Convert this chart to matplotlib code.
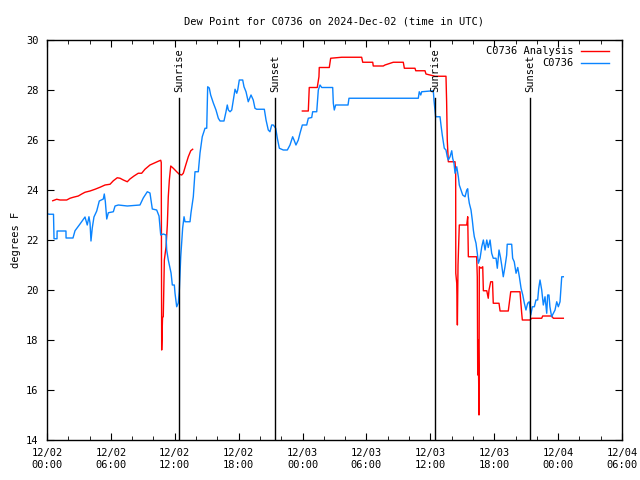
import numpy as np
import pandas as pd
import matplotlib
matplotlib.use('Agg')
import matplotlib.pyplot as plt
import matplotlib.dates as mdates

# hours since 2024-12-02 00:00 UTC
obs_hours = [0.0, 0.22, 0.61, 0.66, 0.94, 0.95, 1.78, 1.79, 2.44, 2.63, 3.10, 3.57, 3.78, 3.94,
             4.04, 4.13, 4.25, 4.41, 4.67, 4.91, 5.29, 5.38, 5.48, 5.61, 5.76, 6.23, 6.39, 6.70,
             7.54, 8.73, 9.04, 9.42, 9.67, 9.89, 10.30, 10.52, 10.68, 10.92, 11.18, 11.24, 11.39,
             11.65, 11.77, 11.96, 12.02, 12.18, 12.33, 12.42, 12.56, 12.74, 12.87, 12.96, 13.43,
             13.52, 13.65, 13.74, 13.90, 14.21, 14.37, 14.58, 14.84, 15.00, 15.09, 15.24, 15.37,
             15.62, 15.87, 16.09, 16.25, 16.62, 16.81, 16.93, 17.03, 17.19, 17.35, 17.50, 17.66,
             17.82, 17.91, 18.06, 18.38, 18.50, 18.69, 18.90, 19.16, 19.37, 19.53, 19.69, 20.41,
             20.57, 20.78, 20.94, 21.10, 21.25, 21.48, 21.63, 21.82, 22.19, 22.57, 22.82, 23.07,
             23.20, 23.38, 23.60, 23.76, 23.98, 24.39, 24.54, 24.86, 24.95, 25.33, 25.48, 25.64,
             25.80, 26.83, 26.89, 26.98, 27.11, 28.27, 28.36, 34.87, 34.96, 35.10, 35.19, 36.28,
             36.34, 36.44, 36.50, 36.91, 37.00, 37.12, 37.22, 37.31, 37.47, 37.59, 37.69, 37.85,
             38.01, 38.10, 38.22, 38.32, 38.48, 38.63, 38.72, 38.88, 39.04, 39.26, 39.42, 39.51,
             39.57, 39.66, 39.82, 39.94, 40.04, 40.13, 40.29, 40.41, 40.51, 40.67, 40.83, 40.98,
             41.14, 41.30, 41.44, 41.61, 41.76, 41.91, 42.17, 42.29, 42.45, 42.59, 42.70, 42.85,
             43.01, 43.17, 43.22, 43.64, 43.73, 43.88, 44.05, 44.21, 44.36, 44.52, 44.68, 44.83,
             44.98, 45.14, 45.29, 45.43, 45.58, 45.77, 45.92, 46.08, 46.18, 46.30, 46.46, 46.61,
             46.77, 46.93, 47.02, 47.14, 47.23, 47.39, 47.55, 47.71, 47.87, 48.02, 48.18, 48.34,
             48.49]
obs_dewpt = [23.05, 23.03, 23.03, 22.05, 22.05, 22.36, 22.36, 22.08, 22.08, 22.37, 22.64, 22.92,
             22.6, 22.93, 22.68, 21.96, 22.48, 22.92, 23.16, 23.56, 23.64, 23.84, 23.53, 22.84,
             23.09, 23.13, 23.36, 23.4, 23.36, 23.4, 23.68, 23.93, 23.88, 23.24, 23.2, 22.96,
             22.2, 22.24, 22.2, 21.6, 21.2, 20.68, 20.2, 20.2, 19.88, 19.33, 19.48, 19.93, 21.33,
             22.48, 22.93, 22.73, 22.73, 23.08, 23.48, 23.73, 24.73, 24.73, 25.48, 26.13, 26.47,
             26.47, 28.13, 28.08, 27.8, 27.48, 27.2, 26.87, 26.76, 26.76, 27.13, 27.4, 27.2,
             27.13, 27.2, 27.6, 28.03, 27.87, 28.0, 28.4, 28.4, 28.13, 27.93, 27.53, 27.8, 27.6,
             27.27, 27.23, 27.23, 26.8, 26.4, 26.33, 26.6, 26.6, 26.47, 26.07, 25.67, 25.6, 25.6,
             25.8, 26.13, 26.0, 25.8, 26.0, 26.27, 26.6, 26.6, 26.87, 26.9, 27.13, 27.13, 28.0,
             28.2, 28.1, 28.1, 27.47, 27.2, 27.4, 27.4, 27.67, 27.67, 27.93, 27.8, 27.93, 27.97,
             27.6, 27.2, 26.93, 26.93, 26.6, 26.2, 25.93, 25.67, 25.6, 25.33, 25.2, 25.33, 25.57,
             25.27, 25.07, 24.67, 24.93, 24.53, 24.2, 24.0, 23.8, 23.73, 24.0, 24.05, 23.73,
             23.47, 23.2, 22.8, 22.4, 22.13, 21.87, 21.47, 21.07, 21.27, 21.73, 22.0, 21.6, 22.0,
             21.7, 22.0, 21.47, 21.27, 21.27, 20.87, 21.6, 21.3, 21.0, 20.53, 20.93, 21.4, 21.83,
             21.83, 21.27, 21.13, 20.67, 20.9, 20.53, 20.07, 19.8, 19.47, 19.2, 19.47, 19.53,
             19.0, 19.33, 19.33, 19.6, 19.6, 20.07, 20.4, 20.0, 19.4, 19.73, 19.07, 19.8, 19.8,
             19.33, 18.93, 19.07, 19.2, 19.53, 19.33, 19.53, 20.53, 20.53]

ana_hours = [0.54, 0.91, 1.22, 1.85, 2.16, 2.47, 2.94, 3.26, 3.57, 4.04, 4.51, 4.98, 5.45, 5.92,
             6.23, 6.60, 6.86, 7.17, 7.54, 7.79, 8.17, 8.57, 8.89, 9.20, 9.67, 10.14, 10.45,
             10.68, 10.73, 10.77, 10.85, 10.92, 11.02, 11.18, 11.30, 11.39, 11.49, 11.62, 11.86,
             12.18, 12.42, 12.65, 12.80, 13.03, 13.27, 13.50, 13.68, 18.0,
             23.98, 24.54, 24.63, 25.38, 25.54, 25.57, 26.51, 26.64, 27.68, 29.55, 29.65, 30.59,
             30.64, 31.58, 31.74, 32.52, 33.46, 33.56, 34.56, 34.63, 35.50, 35.59, 36.44, 37.47,
             37.53, 37.59, 37.69, 38.32, 38.38, 38.39, 38.48, 38.54, 38.60, 38.72, 39.42, 39.51,
             39.57, 40.35, 40.41, 40.45, 40.50, 40.57, 40.60, 40.76, 40.92, 40.98, 41.30, 41.44,
             41.51, 41.67, 41.84, 41.91, 42.45, 42.55, 43.32, 43.55, 44.42, 44.58, 44.64, 45.36,
             45.52, 46.46, 46.55, 47.40, 47.55, 48.49]
ana_dewpt = [23.57, 23.63, 23.6, 23.6, 23.67, 23.71, 23.76, 23.84, 23.91, 23.96, 24.03, 24.11,
             24.2, 24.23, 24.37, 24.49, 24.47, 24.4, 24.33, 24.44, 24.56, 24.67, 24.67, 24.83,
             25.0, 25.09, 25.15, 25.19, 25.1, 17.6, 18.9, 18.93, 21.2, 21.73, 22.6, 23.73, 24.4,
             24.96, 24.87, 24.73, 24.63, 24.6, 24.67, 25.0, 25.33, 25.57, 25.63, np.nan,
             27.16, 27.16, 28.1, 28.1, 28.53, 28.9, 28.9, 29.27, 29.31, 29.31, 29.11, 29.11,
             28.96, 28.96, 29.0, 29.11, 29.11, 28.87, 28.87, 28.77, 28.77, 28.64, 28.55, 28.55,
             27.53, 26.0, 25.13, 25.13, 24.67, 20.67, 20.27, 18.6, 21.0, 22.6, 22.6, 22.93, 21.33,
             21.33, 20.53, 16.6, 18.0, 15.0, 20.93, 20.87, 20.93, 19.97, 19.97, 19.67, 20.0,
             20.33, 20.33, 19.47, 19.47, 19.16, 19.16, 19.93, 19.93, 19.07, 18.8, 18.8, 18.87,
             18.87, 18.96, 18.96, 18.87, 18.87]

sun_hours = [12.40, 21.41, 36.44, 45.36]
sun_labels = ['Sunrise', 'Sunset', 'Sunrise', 'Sunset']

start = pd.Timestamp('2024-12-02 00:00')
to_time = lambda h: start + pd.to_timedelta(np.array(h), unit='h')

plt.rcParams['font.family'] = ['DejaVu Sans Mono']
plt.rcParams['font.size'] = 7.5

fig = plt.figure(figsize=(6.4, 4.8), dpi=100)
ax = fig.add_axes([47 / 640, 40 / 480, 575 / 640, 400 / 480])

ax.plot(to_time(ana_hours), ana_dewpt, color='#ff0000', lw=1.0, label='C0736 Analysis')
ax.plot(to_time(obs_hours), obs_dewpt, color='#0a84ff', lw=1.0, label='C0736')

for h, lab in zip(sun_hours, sun_labels):
    t = to_time([h])[0]
    ax.plot([t, t], [14, 27.68], color='black', lw=1.0)
    ax.text(t, 27.9, lab, rotation=90, ha='center', va='bottom', fontsize=7.5)

ax.set_xlim(start, start + pd.Timedelta(hours=54))
ax.set_ylim(14, 30)
ax.set_yticks(range(14, 31, 2))
ax.xaxis.set_major_locator(mdates.HourLocator(byhour=[0, 6, 12, 18]))
ax.xaxis.set_major_formatter(mdates.DateFormatter('%m/%d\n%H:%M'))
ax.xaxis.set_minor_locator(mdates.HourLocator(byhour=range(0, 24, 2)))
ax.tick_params(which='both', direction='in', top=True, right=True, labelsize=7.5, pad=6)
ax.tick_params(which='major', length=5)
ax.tick_params(which='minor', length=3)
for s in ax.spines.values():
    s.set_linewidth(1.0)

ax.set_ylabel('degrees F', fontsize=7.5)
ax.set_title('Dew Point for C0736 on 2024-Dec-02 (time in UTC)', fontsize=7.5, pad=11)
ax.legend(loc='upper right', bbox_to_anchor=(0.983, 0.992), frameon=False, markerfirst=False,
          handlelength=2.7, handletextpad=0.7, borderaxespad=0.0, borderpad=0.3,
          labelspacing=0.2, fontsize=7.5)

fig.savefig('out.png', dpi=100)
